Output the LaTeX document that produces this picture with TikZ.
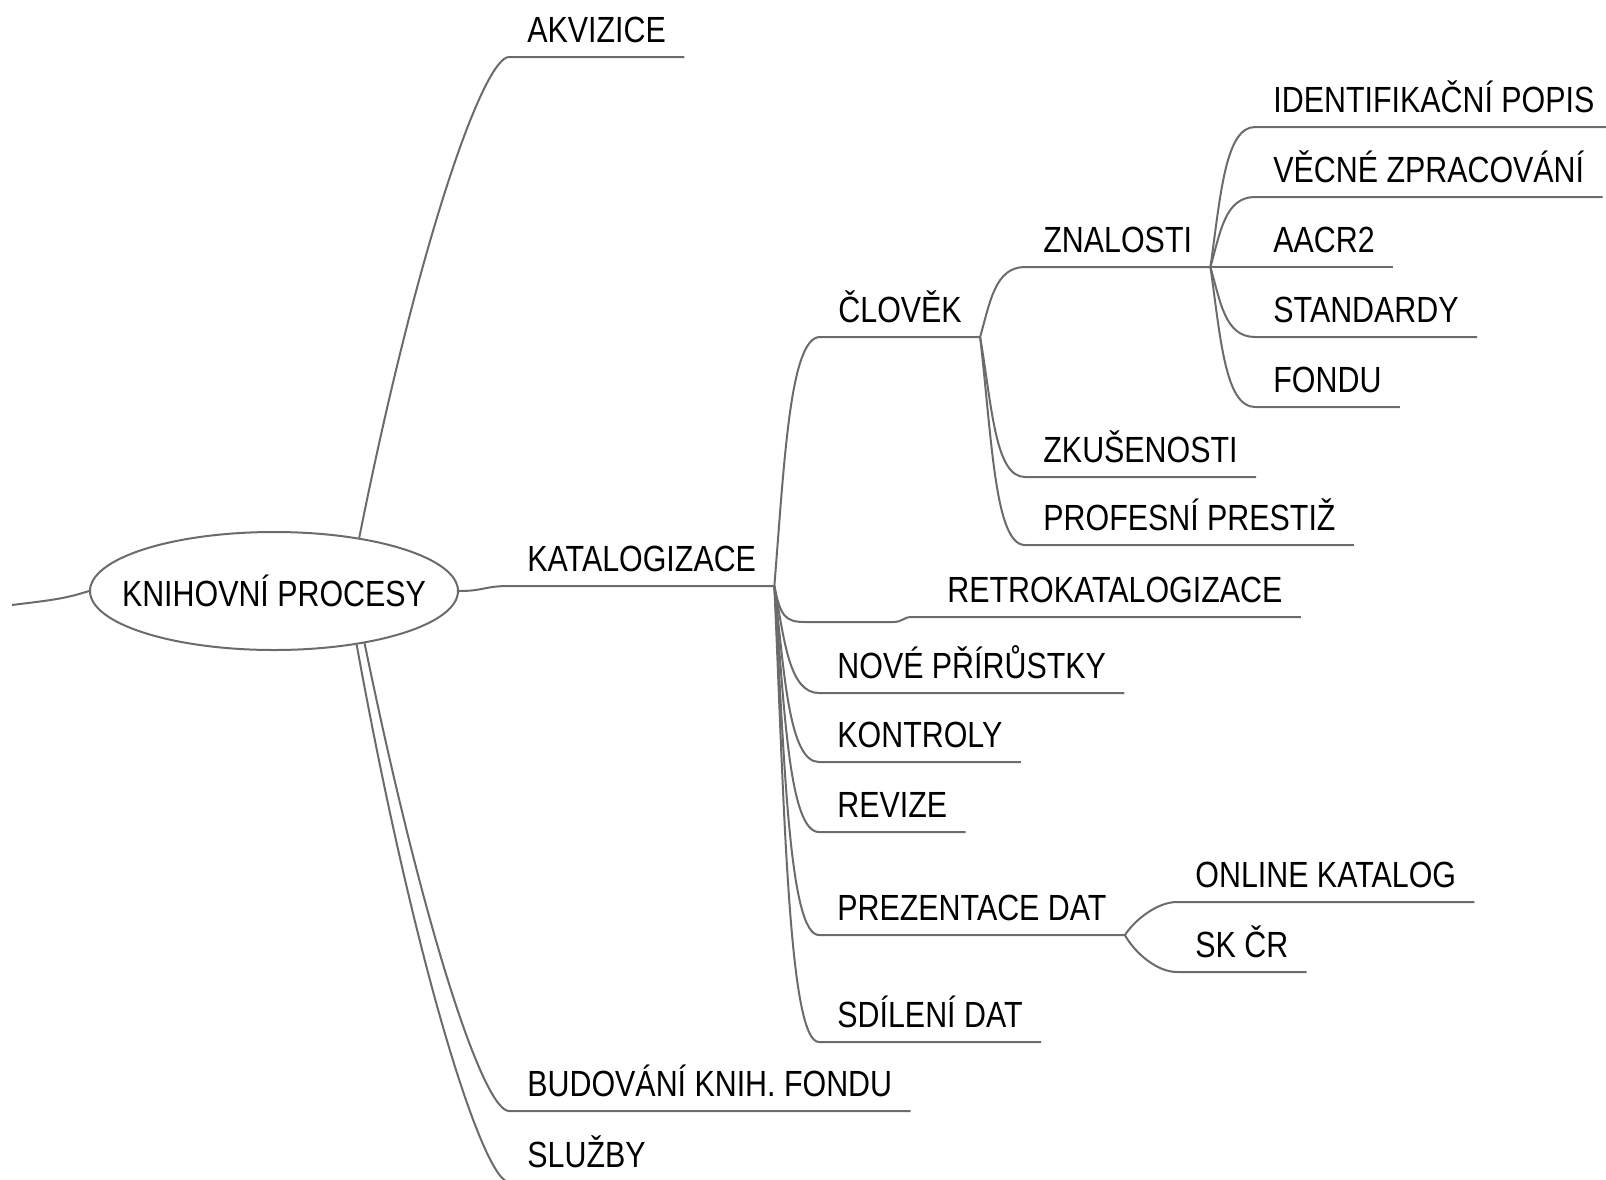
\documentclass[tikz,border=0pt]{standalone}
\usepackage{fontspec}
\setmainfont{Liberation Sans}[FakeStretch=0.835]
\usetikzlibrary{shapes.geometric}

\tikzset{
  topic/.style={anchor=south west, inner xsep=9pt, inner ysep=7pt, text depth=0pt,
    font=\fontsize{18.2}{22}\selectfont},
  rootnode/.style={ellipse, draw=black!58, line width=1pt, minimum width=184pt,
    minimum height=59pt, inner sep=0pt, font=\fontsize{18.2}{22}\selectfont},
  twig/.style={draw=black!58, line width=1pt}
}

\begin{document}
\begin{tikzpicture}[x=0.5pt, y=-0.5pt]
\useasboundingbox (0,0) rectangle (1606,1179);
\node[rootnode] (root) at (274,591) {\makebox[0pt]{KNIHOVNÍ PROCESY}};
\coordinate (lft) at (12,605);
\node[topic] (akv) at (509,57) {AKVIZICE};
\node[topic] (kat) at (509,586) {KATALOGIZACE};
\node[topic] (bud) at (509,1111) {BUDOVÁNÍ KNIH. FONDU};
\node[topic] (slu) at (509,1182) {SLUŽBY};
\node[topic] (clo) at (820,337) {ČLOVĚK};
\node[topic] (zna) at (1025,267) {ZNALOSTI};
\node[topic] (idp) at (1255,127) {IDENTIFIKAČNÍ POPIS};
\node[topic] (vec) at (1255,197) {VĚCNÉ ZPRACOVÁNÍ};
\node[topic] (aac) at (1255,267) {AACR2};
\node[topic] (sta) at (1255,337) {STANDARDY};
\node[topic] (fon) at (1255,407) {FONDU};
\node[topic] (zku) at (1025,477) {ZKUŠENOSTI};
\node[topic] (pro) at (1025,545) {PROFESNÍ PRESTIŽ};
\node[topic] (ret) at (929,617) {RETROKATALOGIZACE};
\node[topic] (nov) at (819,693) {NOVÉ PŘÍRŮSTKY};
\node[topic] (kon) at (819,762) {KONTROLY};
\node[topic] (rev) at (819,832) {REVIZE};
\node[topic] (pre) at (819,935) {PREZENTACE DAT};
\node[topic] (onl) at (1177,902) {ONLINE KATALOG};
\node[topic] (skc) at (1177,972) {SK ČR};
\node[topic] (sdi) at (819,1042) {SDÍLENÍ DAT};
\draw[twig] (lft) .. controls +(40,-5) and +(-25,8) .. (root.west);
\draw[twig] (root.east) .. controls +(25,0) and +(-25,0) .. (kat.south west) -- (kat.south east);
\draw[twig] (root.32) .. controls +(60,-300) and +(-25,0) .. (akv.south west) -- (akv.south east);
\draw[twig] (root.-30) .. controls +(60,292) and +(-25,0) .. (bud.south west) -- (bud.south east);
\draw[twig] (root.-33) .. controls +(60,330) and +(-25,0) .. (slu.south west) -- (slu.south east);
\draw[twig] (kat.south east) .. controls +(10,-125) and +(-30,0) .. (clo.south west) -- (clo.south east);
\draw[twig] (kat.south east) .. controls +(6,30) and +(-20,0) .. (805,622) -- (893,622)
  .. controls +(10,0) and +(-9,0) .. ([xshift=-8.5pt]ret.south west) -- (ret.south east);
\draw[twig] (kat.south east) .. controls +(10,54) and +(-30,0) .. (nov.south west) -- (nov.south east);
\draw[twig] (kat.south east) .. controls +(10,88) and +(-30,0) .. (kon.south west) -- (kon.south east);
\draw[twig] (kat.south east) .. controls +(10,123) and +(-30,0) .. (rev.south west) -- (rev.south east);
\draw[twig] (kat.south east) .. controls +(10,175) and +(-30,0) .. (pre.south west) -- (pre.south east);
\draw[twig] (kat.south east) .. controls +(10,228) and +(-30,0) .. (sdi.south west) -- (sdi.south east);
\draw[twig] (clo.south east) .. controls +(10,-35) and +(-30,0) .. (zna.south west) -- (zna.south east);
\draw[twig] (clo.south east) .. controls +(12,70) and +(-30,0) .. (zku.south west) -- (zku.south east);
\draw[twig] (clo.south east) .. controls +(12,104) and +(-30,0) .. (pro.south west) -- (pro.south east);
\draw[twig] (zna.south east) .. controls +(10,-70) and +(-30,0) .. (idp.south west) -- (idp.south east);
\draw[twig] (zna.south east) .. controls +(10,-35) and +(-30,0) .. (vec.south west) -- (vec.south east);
\draw[twig] (zna.south east) -- (aac.south west) -- (aac.south east);
\draw[twig] (zna.south east) .. controls +(10,35) and +(-30,0) .. (sta.south west) -- (sta.south east);
\draw[twig] (zna.south east) .. controls +(10,70) and +(-30,0) .. (fon.south west) -- (fon.south east);
\draw[twig] (pre.south east) .. controls +(10,-15) and +(-20,0) .. (onl.south west) -- (onl.south east);
\draw[twig] (pre.south east) .. controls +(10,18) and +(-20,0) .. (skc.south west) -- (skc.south east);
\end{tikzpicture}
\end{document}
